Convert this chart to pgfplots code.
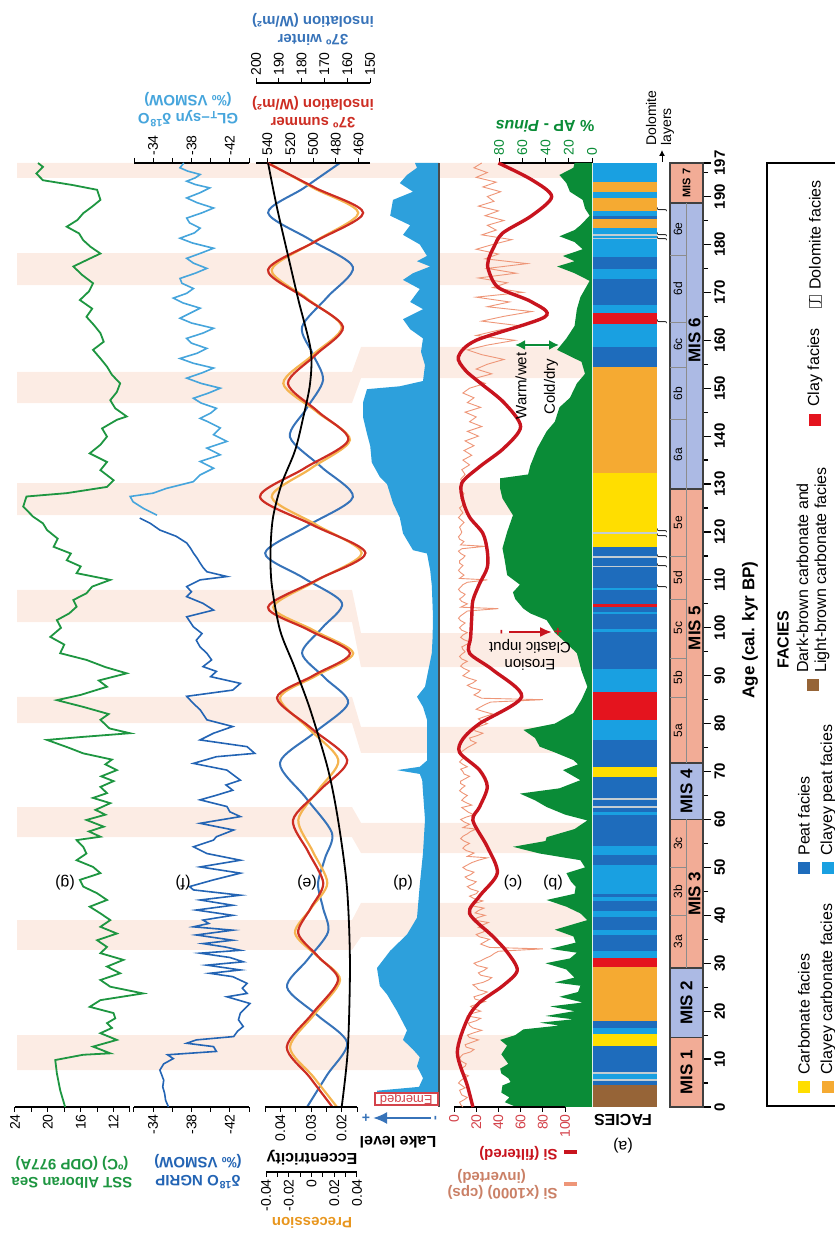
\documentclass[border=0pt]{standalone}
\usepackage{fontspec}
\setmainfont{Liberation Sans}
\newfontfamily\djv{DejaVu Sans}
\usepackage{pgfplots}
\pgfplotsset{compat=1.18}
\usetikzlibrary{arrows.meta}

\definecolor{sstgreen}{RGB}{30,150,65}
\definecolor{apgreen}{RGB}{10,140,55}
\definecolor{ngripblue}{RGB}{35,100,180}
\definecolor{glblue}{RGB}{70,165,220}
\definecolor{sumred}{RGB}{205,45,35}
\definecolor{precorange}{RGB}{245,180,80}
\definecolor{precdark}{RGB}{232,150,30}
\definecolor{winblue}{RGB}{55,115,185}
\definecolor{lakeblue}{RGB}{45,160,220}
\definecolor{sisalmon}{RGB}{238,150,120}
\definecolor{sired}{RGB}{200,20,30}
\definecolor{bandpink}{RGB}{252,236,228}
\definecolor{misodd}{RGB}{242,172,150}
\definecolor{miseven}{RGB}{172,186,228}
\definecolor{fyellow}{RGB}{255,222,0}
\definecolor{forange}{RGB}{245,170,50}
\definecolor{fdblue}{RGB}{30,108,188}
\definecolor{flblue}{RGB}{25,160,225}
\definecolor{fred}{RGB}{228,20,30}
\definecolor{fbrown}{RGB}{150,100,55}
\definecolor{fgray}{RGB}{195,205,210}

\pgfplotsset{
  panel/.style={scale only axis, height=472pt, ymin=0, ymax=197, anchor=south west,
    ytick=\empty, clip=false},
  curves/.style={panel, hide axis},
  short/.style={scale only axis, height=1pt, ymin=0, ymax=1, ytick=\empty, clip=false},
  ruler/.style={axis y line=none, tick align=outside, major tick length=2.5pt,
    minor tick length=1.5pt, scaled x ticks=false,
    tick label style={font=\fontsize{7}{7}\selectfont},
    tick style={line width=0.5pt, black}, axis line style={line width=0.6pt, black}},
  botruler/.style={ruler, axis x line*=bottom,
    xticklabel style={rotate=90, anchor=east, inner sep=1pt}},
  topruler/.style={ruler, axis x line*=top,
    xticklabel style={rotate=90, anchor=west, inner sep=1pt}},
}

% shaded intervals: left part (panels g-e) and right part (panels d-b)
\newcommand{\band}[4]{\addplot[fill=bandpink, draw=none] coordinates
  {(17,#1) (352,#1) (361,#3) (592,#3) (592,#4) (361,#4) (352,#2) (17,#2)};}
% facies layer between two ages
\newcommand{\fac}[3]{\addplot[fill=#3, draw=none] coordinates
  {(0,#1) (1,#1) (1,#2) (0,#2)};}
% marine isotope stage box
\newcommand{\mis}[3]{\addplot[fill=#3, draw=black!75, line width=0.8pt] coordinates
  {(0,#1) (1,#1) (1,#2) (0,#2)} -- cycle;}
\newcommand{\dolo}[1]{\node[rotate=90, inner sep=0pt] at (axis cs:1.08,#1)
  {\djv\fontsize{5}{5}\selectfont ʃ};}

\begin{document}
\begin{tikzpicture}
\path[use as bounding box] (0,0) rectangle (417pt,620pt);

% ---------- shaded intervals ----------
\begin{axis}[curves, at={(0pt,66.5pt)}, width=296.5pt, xmin=0, xmax=593]
\band{193.9}{197}{193.9}{197}
\band{171.5}{178.2}{171.5}{178.2}
\band{146.9}{153.4}{152.1}{158.6}
\band{123.5}{130.2}{123.5}{130.2}
\band{101.2}{107.9}{91.8}{98.9}
\band{80.1}{85.6}{73.9}{79.3}
\band{56.3}{62.6}{53.0}{59.3}
\band{32.8}{39.0}{35.5}{42.6}
\band{7.7}{15.0}{7.7}{15.0}
\end{axis}

% ---------- (g) SST Alboran Sea ----------
\begin{axis}[panel, at={(7.5pt,66.5pt)}, width=57.5pt, xmin=10, xmax=24, x dir=reverse,
  botruler, xtick={10,12,14,16,18,20,22,24}, xticklabels={,12,,16,,20,,24}]
\addplot[sstgreen, line width=0.9pt] table[row sep=\\, x index=1, y index=0] {
0 17.9\\ 3.5 18.5\\ 7.0 18.9\\ 9.8 19.1\\ 10.9 15.7\\ 11.2 12.4\\ 12.6 14.5\\ 14.0 11.6\\
15.4 13.6\\ 16.5 12.2\\ 17.5 12.8\\ 18.5 11.8\\ 19.6 12.0\\ 20.9 14.9\\ 22.3 13.6\\ 23.7 8.4\\
25.1 12.4\\ 26.5 13.6\\ 27.9 11.2\\ 29.3 12.8\\ 30.7 10.8\\ 32.1 13.6\\ 33.4 12.8\\ 34.8 14.0\\
36.2 11.6\\ 37.6 13.6\\ 39.0 12.4\\ 40.4 13.6\\ 41.8 14.9\\ 43.2 12.8\\ 44.6 14.0\\ 46.0 15.7\\
47.4 16.1\\ 48.8 13.6\\ 50.1 14.5\\ 51.5 16.5\\ 52.9 15.3\\ 54.3 15.7\\ 55.7 16.5\\ 56.4 13.6\\
57.5 15.0\\ 58.5 13.2\\ 59.9 15.3\\ 61.0 13.0\\ 62.0 14.2\\ 63.4 12.4\\ 64.5 14.5\\ 65.5 12.8\\
66.8 13.6\\ 68.0 12.0\\ 69.0 13.5\\ 70.3 11.6\\ 71.5 13.0\\ 72.5 12.2\\ 73.8 15.7\\ 75.0 17.5\\
76.6 20.1\\ 77.2 16.0\\ 78.0 10.0\\ 79.0 12.5\\ 80.8 13.6\\ 82.0 12.6\\ 83.5 15.7\\ 84.9 18.9\\
86.0 16.0\\ 87.7 12.8\\ 89.0 13.8\\ 90.5 10.4\\ 91.8 13.0\\ 93.3 15.3\\ 94.7 18.5\\ 96.5 18.0\\
98.1 19.7\\ 100.0 18.4\\ 101.6 18.9\\ 103.0 17.4\\ 104.4 16.5\\ 105.8 16.9\\ 107.2 15.3\\ 108.6 14.6\\
110.0 12.4\\ 111.4 16.5\\ 112.8 16.0\\ 114.1 17.7\\ 115.5 17.2\\ 116.9 19.3\\ 118.6 18.8\\ 120.4 20.1\\
121.8 20.6\\ 123.2 21.8\\ 125.3 23.0\\ 127.4 22.6\\ 128.1 17.7\\ 129.4 12.8\\ 130.8 12.0\\ 132.9 13.6\\
134.6 12.8\\ 136.4 14.9\\ 138.2 13.6\\ 139.9 12.8\\ 141.6 13.4\\ 143.4 11.6\\ 144.1 10.4\\ 145.8 11.8\\
147.5 12.4\\ 149.2 11.6\\ 151.0 11.2\\ 152.8 12.2\\ 154.5 12.8\\ 156.2 13.6\\ 158.0 14.5\\ 159.7 13.2\\
161.5 13.6\\ 163.2 14.4\\ 164.9 15.3\\ 166.6 14.6\\ 168.4 16.1\\ 170.2 15.0\\ 171.9 14.5\\ 173.6 15.8\\
175.4 16.9\\ 176.8 15.2\\ 178.1 13.6\\ 179.5 14.8\\ 180.9 15.7\\ 182.3 16.2\\ 183.7 17.7\\ 185.1 16.4\\
186.5 15.7\\ 187.9 14.6\\ 189.3 13.6\\ 191.4 14.0\\ 192.4 17.0\\ 193.4 20.6\\ 194.8 21.4\\ 196.2 20.6\\
197.0 21.2\\
};
\end{axis}

% ---------- (f) NGRIP and GL_T-syn ----------
\begin{axis}[panel, at={(67pt,66.5pt)}, width=57.5pt, xmin=-44, xmax=-32, x dir=reverse,
  botruler, xtick={-44,-42,-40,-38,-36,-34,-32}, xticklabels={,-42,,-38,,-34,}]
\addplot[ngripblue, line width=0.8pt] table[row sep=\\, x index=1, y index=0] {
0 -35.6\\ 1.4 -35.3\\ 2.8 -35.2\\ 4.2 -35.0\\ 5.6 -35.1\\ 7.7 -34.7\\ 9.0 -35.1\\ 10.1 -36.1\\
10.9 -35.5\\ 11.6 -40.6\\ 12.6 -40.3\\ 13.3 -37.5\\ 14.0 -38.5\\ 14.7 -42.4\\ 15.8 -42.8\\ 16.8 -43.4\\
18.2 -42.9\\ 19.6 -43.1\\ 20.6 -43.6\\ 21.6 -44.1\\ 23.0 -41.7\\ 23.7 -43.8\\ 24.8 -43.3\\ 25.8 -43.8\\
27.2 -42.3\\ 27.9 -39.9\\ 28.6 -43.1\\ 29.6 -39.6\\ 30.3 -43.4\\ 31.2 -42.0\\ 32.1 -38.9\\ 32.7 -43.1\\
33.4 -41.5\\ 34.1 -39.2\\ 34.8 -42.3\\ 35.9 -38.5\\ 36.9 -42.3\\ 37.6 -38.2\\ 38.3 -39.8\\ 39.0 -39.2\\
40.0 -42.3\\ 41.1 -38.5\\ 42.1 -42.3\\ 43.2 -38.9\\ 44.2 -43.1\\ 45.3 -38.2\\ 46.0 -37.8\\ 47.4 -40.3\\
48.8 -43.1\\ 50.1 -38.9\\ 51.5 -43.1\\ 52.9 -39.6\\ 54.3 -38.2\\ 55.7 -40.3\\ 56.4 -40.6\\ 57.8 -42.4\\
59.2 -38.9\\ 60.6 -43.1\\ 61.6 -42.0\\ 62.7 -41.7\\ 64.1 -38.9\\ 65.0 -40.5\\ 66.1 -42.3\\ 67.2 -41.6\\
68.2 -43.1\\ 70.3 -41.7\\ 71.7 -38.2\\ 73.1 -40.6\\ 73.8 -44.6\\ 75.2 -43.8\\ 76.6 -38.9\\ 78.0 -40.3\\
79.4 -42.3\\ 80.8 -39.6\\ 82.9 -38.9\\ 84.2 -38.2\\ 85.7 -37.5\\ 87.0 -42.3\\ 88.4 -43.1\\ 89.8 -40.0\\
90.9 -40.6\\ 91.9 -39.2\\ 93.3 -40.1\\ 94.7 -39.6\\ 96.0 -38.9\\ 97.4 -38.5\\ 98.8 -39.1\\ 100.2 -38.2\\
102.3 -37.5\\ 103.7 -40.3\\ 105.1 -39.2\\ 106.5 -37.5\\ 107.5 -38.0\\ 108.6 -37.5\\ 110.0 -38.9\\ 110.7 -41.7\\
111.7 -39.6\\ 112.6 -39.2\\ 113.5 -38.9\\ 114.5 -38.6\\ 115.6 -38.2\\ 116.6 -37.9\\ 117.7 -37.5\\ 119.1 -36.4\\
120.4 -34.7\\ 121.8 -33.7\\ 122.9 -32.6\\
};
\end{axis}
\begin{axis}[panel, at={(67pt,66.5pt)}, width=57.5pt, xmin=-44, xmax=-32, x dir=reverse,
  topruler, xtick={-44,-42,-40,-38,-36,-34,-32}, xticklabels={,-42,,-38,,-34,}]
\addplot[glblue, line width=0.8pt] table[row sep=\\, x index=1, y index=0] {
123.5 -34.4\\ 124.9 -33.0\\ 126.3 -31.9\\ 127.4 -31.6\\ 128.1 -34.0\\ 129.1 -35.4\\ 130.5 -38.2\\ 131.9 -38.9\\
133.3 -40.3\\ 134.7 -38.9\\ 136.1 -41.0\\ 137.5 -39.6\\ 138.9 -41.7\\ 140.3 -40.3\\ 141.7 -41.0\\ 143.1 -39.6\\
143.7 -38.9\\ 144.8 -40.0\\ 145.8 -40.6\\ 146.9 -39.0\\ 147.9 -38.2\\ 149.0 -39.8\\ 150.0 -41.0\\ 151.0 -39.0\\
152.1 -37.5\\ 153.2 -39.1\\ 154.2 -40.3\\ 155.2 -38.2\\ 156.2 -36.8\\ 157.3 -38.6\\ 158.3 -39.6\\ 159.4 -38.0\\
160.4 -37.5\\ 161.5 -39.2\\ 162.5 -40.3\\ 163.6 -38.0\\ 164.6 -36.8\\ 165.7 -37.9\\ 166.7 -38.9\\ 167.8 -37.1\\
168.8 -36.1\\ 169.8 -37.5\\ 170.8 -38.2\\ 171.9 -37.0\\ 172.9 -36.8\\ 174.0 -38.4\\ 175.0 -39.6\\ 176.1 -38.2\\
177.1 -37.5\\ 178.2 -39.0\\ 179.2 -40.3\\ 180.3 -38.1\\ 181.3 -36.8\\ 182.4 -38.3\\ 183.4 -38.9\\ 184.5 -37.8\\
185.5 -37.5\\ 186.6 -39.1\\ 187.6 -40.3\\ 188.7 -38.6\\ 189.7 -37.5\\ 190.8 -38.9\\ 191.8 -39.9\\ 192.5 -38.4\\
193.2 -37.5\\ 193.9 -38.4\\ 194.6 -38.9\\ 195.3 -37.6\\ 196.0 -36.8\\ 197.0 -37.2\\
};
\end{axis}

% ---------- (e) orbital parameters ----------
% 37N winter insolation
\begin{axis}[curves, at={(128pt,66.5pt)}, width=57pt, xmin=150, xmax=200, x dir=reverse]
\addplot[winblue, line width=1pt, smooth] table[row sep=\\, x index=1, y index=0] {
0 177.6\\ 6.7 168.8\\ 13.4 160\\ 19.2 173.2\\ 25 186.4\\ 30.75 177.4\\ 36.5 168.4\\ 41.55 170.6\\
46.6 172.8\\ 51.9 169.75\\ 57.2 166.7\\ 64.5 178.1\\ 71.8 189.5\\ 78.05 174.55\\ 84.3 159.6\\ 89.5 169.7\\
94.7 179.8\\ 99.95 171.05\\ 105.2 162.3\\ 110.4 179.15\\ 115.6 196\\ 121.45 176.75\\ 127.3 157.5\\
133.55 171.3\\ 139.8 185.1\\ 145.75 177.85\\ 151.7 170.6\\ 157.25 175.2\\ 162.8 179.8\\ 169.05 168.65\\
175.3 157.5\\ 180.95 176.1\\ 186.6 194.7\\ 191.8 178.95\\ 197 163.2\\
};
\end{axis}
% precession
\begin{axis}[curves, at={(133pt,66.5pt)}, width=45.5pt, xmin=-0.04, xmax=0.04]
\addplot[precorange, line width=1.1pt, smooth] table[row sep=\\, x index=1, y index=0] {
0 0.0224\\ 6.25 0.0018\\ 12.5 -0.0189\\ 19.5 0.0031\\ 26.5 0.0251\\ 31.4 0.0053\\ 36.3 -0.0145\\
41.5 -0.0003\\ 46.7 0.0139\\ 53.3 0.0012\\ 59.9 -0.0116\\ 66.15 0.0060\\ 72.4 0.0236\\ 78.9 -0.0021\\
85.4 -0.0277\\ 90.05 0.0045\\ 94.7 0.0367\\ 99.5 0.0016\\ 104.3 -0.0336\\ 109.95 0.0053\\ 115.6 0.0441\\
121.45 0.0046\\ 127.3 -0.0350\\ 133.25 -0.0006\\ 139.2 0.0338\\ 145.1 0.0045\\ 151 -0.0248\\ 156.9 0.0009\\
162.8 0.0266\\ 168.75 -0.0042\\ 174.7 -0.0350\\ 180.65 0.0031\\ 186.6 0.0411\\ 191.8 0.0016\\ 197 -0.0380\\
};
\end{axis}
% 37N summer insolation
\begin{axis}[panel, at={(128pt,66.5pt)}, width=57pt, xmin=450, xmax=550, x dir=reverse,
  topruler, xtick={460,480,500,520,540}, xticklabels={460,480,500,520,540}]
\addplot[sumred, line width=1.1pt, smooth] table[row sep=\\, x index=1, y index=0] {
0 483\\ 6.25 503\\ 12.5 523\\ 19.5 500.5\\ 26.5 478\\ 31.4 495.5\\ 36.3 513\\ 41.5 502\\ 46.7 491\\
53.3 504.3\\ 59.9 517.5\\ 66.15 493.8\\ 72.4 470\\ 78.9 500.8\\ 85.4 531.6\\ 90.05 499.6\\ 94.7 467.5\\
99.5 503.5\\ 104.3 539.5\\ 109.95 496.8\\ 115.6 454\\ 121.45 500.3\\ 127.3 546.5\\ 133.25 507.8\\
139.2 469\\ 145.1 495.5\\ 151 522\\ 156.9 497.9\\ 162.8 473.7\\ 168.75 506.6\\ 174.7 539.5\\
180.65 497.8\\ 186.6 456\\ 191.8 498\\ 197 540\\
};
\end{axis}
% eccentricity
\begin{axis}[panel, at={(132.5pt,66.5pt)}, width=46pt, xmin=0.015, xmax=0.045, x dir=reverse,
  botruler, xtick={0.015,0.02,0.025,0.03,0.035,0.04,0.045}, xticklabels={,0.02,,0.03,,0.04,}]
\addplot[black, line width=0.9pt, smooth] table[row sep=\\, x index=1, y index=0] {
0 0.0200\\ 12 0.0180\\ 30 0.0173\\ 46 0.0183\\ 60 0.0212\\ 70.6 0.0245\\ 83 0.0303\\ 92 0.0355\\
99.5 0.0401\\ 109 0.0428\\ 116 0.0432\\ 123 0.0424\\ 130 0.0396\\ 137 0.0352\\ 144 0.0325\\
151 0.0303\\ 158 0.0301\\ 168.4 0.0341\\ 178.8 0.0379\\ 188 0.0412\\ 197 0.0440\\
};
\end{axis}
% winter insolation scale
\begin{axis}[short, at={(128pt,578.5pt)}, anchor=north west, width=57pt, xmin=150, xmax=200,
  x dir=reverse, topruler, xtick={150,160,170,180,190,200}, xticklabels={150,160,170,180,190,200}]
\end{axis}
% precession scale
\begin{axis}[short, at={(133pt,34pt)}, anchor=south west, width=45.5pt, xmin=-0.04, xmax=0.04,
  botruler, xtick={-0.04,-0.03,-0.02,-0.01,0,0.01,0.02,0.03,0.04},
  xticklabels={-0.04,,-0.02,,0,,0.02,,0.04}]
\end{axis}

% ---------- (d) lake level ----------
\begin{axis}[curves, at={(179.5pt,66.5pt)}, width=40pt, xmin=0, xmax=1, x dir=reverse]
\addplot[fill=lakeblue, draw=none] table[row sep=\\, x index=1, y index=0] {
197 0\\ 197 0.30\\ 196 0.275\\ 194.5 0.40\\ 192.8 0.49\\ 191 0.325\\ 189.3 0.575\\ 186 0.61\\
184 0.36\\ 182 0.45\\ 180 0.24\\ 177.6 0.15\\ 176.5 0.275\\ 175.4 0.11\\ 174 0.325\\ 172.6 0.45\\
170.7 0.24\\ 168 0.36\\ 166.5 0.20\\ 164.4 0.45\\ 162.3 0.36\\ 160.4 0.20\\ 157.6 0.225\\ 154.8 0.175\\
151.5 0.20\\ 150.4 0.49\\ 149.8 0.90\\ 147 0.95\\ 144 0.95\\ 140.5 0.90\\ 138 0.86\\ 134.5 0.84\\
131.5 0.74\\ 130 0.65\\ 126 0.575\\ 123 0.49\\ 119.7 0.45\\ 116.2 0.325\\ 115.5 0.15\\ 112 0.11\\
108.8 0.09\\ 102.3 0.075\\ 98 0.08\\ 94.7 0.09\\ 87.7 0.175\\ 85.6 0.275\\ 83.5 0.20\\ 80.8 0.15\\
72.3 0.15\\ 71 0.24\\ 70.3 0.525\\ 69.5 0.24\\ 68.2 0.21\\ 65.7 0.20\\ 60 0.175\\ 53 0.20\\
46.4 0.24\\ 39.5 0.275\\ 36 0.40\\ 32.6 0.61\\ 29 0.775\\ 25.3 0.74\\ 23.5 0.65\\ 20 0.525\\
16 0.40\\ 14 0.45\\ 12 0.325\\ 10.4 0.24\\ 8.5 0.275\\ 6 0.20\\ 4.2 0.25\\ 3.4 0.775\\ 3.0 0.775\\
3.0 0\\
};
\draw[black!70, line width=0.6pt] (axis cs:0,0) -- (axis cs:0,197);
\draw[sired!80, line width=0.6pt] (axis cs:0.0125,0.4) rectangle (axis cs:0.8,2.9);
\node[rotate=180, text=sired!80, font=\fontsize{6.5}{6.5}\selectfont, inner sep=0pt]
  at (axis cs:0.41,1.65) {Emerged};
\end{axis}

% ---------- (b) % AP - Pinus ----------
\begin{axis}[panel, at={(249.5pt,66.5pt)}, width=46.5pt, xmin=0, xmax=80, x dir=reverse,
  topruler, xtick={0,20,40,60,80}, xticklabels={0,20,40,60,80},
  xticklabel style={text=apgreen}]
\addplot[fill=apgreen, draw=none] table[row sep=\\, x index=1, y index=0] {
0 0\\ 0 65\\ 1 75\\ 2 71\\ 3 78\\ 4.5 77\\ 5.2 70\\ 6 72\\ 7 78\\ 8 79\\ 9 72\\ 10 75\\ 11 78\\
12.8 73\\ 14 79\\ 15 66\\ 16.2 59\\ 17 28\\ 17.6 45\\ 18.3 16\\ 19 40\\ 20 15\\ 21 36\\ 21.8 8\\
23 28\\ 24 12\\ 25.3 10\\ 26 32\\ 27 15\\ 28.7 22\\ 30 40\\ 31 19\\ 32.2 13\\ 33 36\\ 34.3 14\\
35.6 16\\ 37 32\\ 39 4\\ 40.4 10\\ 41.8 22\\ 43.2 39\\ 44.5 15\\ 46 14\\ 47 18\\ 48.8 22\\ 50 6\\
51.5 10\\ 52.9 45\\ 54.3 68\\ 55.5 40\\ 56.3 39\\ 58 15\\ 59.8 4\\ 61 23\\ 62.6 39\\ 64 49\\
65.4 62\\ 66.5 28\\ 68.2 10\\ 70.3 25\\ 71.5 12\\ 72.4 16\\ 74 32\\ 75.2 45\\ 77 49\\ 78.7 59\\
80 32\\ 82.2 16\\ 85 9\\ 87.7 4\\ 91 9\\ 94.7 13\\ 97 23\\ 99 32\\ 101.6 39\\ 103 53\\ 104 59\\
106 66\\ 107.4 68\\ 109 62\\ 111 73\\ 114 75\\ 116.6 77\\ 120 73\\ 123.5 68\\ 127 77\\ 129 79\\
131.2 79\\ 132 55\\ 133.9 53\\ 137.5 47\\ 141 39\\ 143 32\\ 146 28\\ 148 19\\ 151 13\\ 153 6\\
155.5 9\\ 158 30\\ 160.4 22\\ 163 15\\ 166.5 13\\ 169 10\\ 172.4 2\\ 174 15\\ 175.4 30\\ 176.5 15\\
177.6 25\\ 179 8\\ 180.5 15\\ 181.7 28\\ 183 15\\ 184 10\\ 186 2\\ 187.5 6\\ 189.3 8\\ 191 19\\
192.8 22\\ 194.5 28\\ 196 16\\ 197 15\\ 197 0\\
};
\end{axis}

% ---------- (c) Si ----------
\begin{axis}[panel, at={(227pt,66.5pt)}, width=55.5pt, xmin=0, xmax=100,
  botruler, xtick={0,20,40,60,80,100}, xticklabels={0,20,40,60,80,100},
  xticklabel style={text=sired!80}]
\addplot[sisalmon, line width=0.45pt] table[row sep=\\, x index=1, y index=0] {
0 8\\ 0.5 6\\ 1 5\\ 1.5 9\\ 2 12\\ 2.5 7\\ 3 6\\ 3.5 5\\ 4 10\\ 4.5 7\\ 5 4\\ 5.5 6\\ 6 9\\
6.5 13\\ 7 8\\ 7.5 6\\ 8 6\\ 8.5 10\\ 9 11\\ 9.5 7\\ 10 5\\ 10.5 6\\ 11 8\\ 11.5 15\\ 12 18\\
12.5 11\\ 13 10\\ 13.5 16\\ 14 22\\ 14.5 14\\ 15 12\\ 15.5 18\\ 16 25\\ 16.5 17\\ 17 14\\ 17.5 13\\
18 20\\ 18.5 24\\ 19 12\\ 19.5 16\\ 20 24\\ 20.5 18\\ 21 15\\ 21.5 21\\ 22 28\\ 22.5 19\\ 23 18\\
23.5 25\\ 24 30\\ 24.5 22\\ 25 20\\ 25.5 17\\ 26 26\\ 26.5 31\\ 27 34\\ 27.5 24\\ 28 22\\ 28.5 27\\
29 30\\ 29.5 21\\ 30 18\\ 30.5 24\\ 31 28\\ 31.5 33\\ 32 36\\ 32.5 40\\ 33 80\\ 33.3 32\\ 34 24\\
34.5 28\\ 35 32\\ 35.5 23\\ 36 20\\ 36.5 26\\ 37 30\\ 37.5 22\\ 38 26\\ 38.5 31\\ 39 18\\ 39.5 21\\
40 28\\ 40.5 19\\ 41 22\\ 41.5 27\\ 42 16\\ 42.5 19\\ 43 26\\ 43.5 18\\ 44 14\\ 44.5 20\\ 45 22\\
45.5 15\\ 46 12\\ 46.5 17\\ 47 20\\ 47.5 13\\ 48 10\\ 48.5 15\\ 49 18\\ 49.5 11\\ 50 8\\ 50.5 12\\
51 16\\ 51.5 22\\ 52 30\\ 52.3 12\\ 53 18\\ 53.5 11\\ 54 8\\ 54.5 10\\ 55 14\\ 55.5 9\\ 56 6\\
56.5 8\\ 57 12\\ 57.5 15\\ 58 20\\ 58.3 8\\ 59 14\\ 59.5 9\\ 60 6\\ 60.5 11\\ 61 18\\ 61.5 13\\
62 10\\ 62.5 7\\ 63 16\\ 63.5 11\\ 64 7\\ 64.5 9\\ 65 12\\ 65.5 8\\ 66 5\\ 66.5 7\\ 67 10\\
67.5 6\\ 68 6\\ 68.5 10\\ 69 14\\ 69.5 9\\ 70 8\\ 70.5 6\\ 71 12\\ 71.5 8\\ 72 5\\ 72.5 7\\
73 10\\ 73.5 6\\ 74 6\\ 74.5 9\\ 75 12\\ 75.5 16\\ 76 20\\ 76.5 15\\ 77 14\\ 77.5 21\\ 78 26\\
78.5 19\\ 79 18\\ 79.5 24\\ 80 30\\ 80.5 25\\ 81 22\\ 81.5 28\\ 82 35\\ 82.5 27\\ 83 20\\ 83.5 24\\
84 28\\ 84.5 33\\ 85 80\\ 85.3 25\\ 86 18\\ 86.5 22\\ 87 24\\ 87.5 16\\ 88 12\\ 88.5 17\\ 89 20\\
89.5 13\\ 90 8\\ 90.5 11\\ 91 14\\ 91.5 9\\ 92 6\\ 92.5 8\\ 93 12\\ 93.5 7\\ 94 5\\ 94.5 7\\
95 10\\ 95.5 8\\ 96 7\\ 96.5 11\\ 97 15\\ 97.5 9\\ 98 6\\ 98.5 8\\ 99 12\\ 99.5 7\\ 100 5\\
100.5 7\\ 101 10\\ 101.5 6\\ 102 4\\ 102.5 6\\ 103 9\\ 103.5 12\\ 104 40\\ 104.3 6\\ 105 12\\
105.5 7\\ 106 5\\ 106.5 8\\ 107 10\\ 107.5 6\\ 108 4\\ 108.5 6\\ 109 8\\ 109.5 12\\ 110 30\\
110.3 5\\ 111 9\\ 111.5 6\\ 112 4\\ 112.5 6\\ 113 8\\ 113.5 5\\ 114 5\\ 114.5 8\\ 115 10\\
115.5 6\\ 116 4\\ 116.5 7\\ 117 28\\ 117.3 6\\ 118 9\\ 118.5 5\\ 119 4\\ 119.5 6\\ 120 7\\
121 5\\ 122 9\\ 123 4\\ 124 8\\ 125 5\\ 126 10\\ 127 6\\ 128 9\\ 129 5\\ 130 8\\ 131 6\\ 132 10\\
133 7\\ 134 14\\ 135 8\\ 136 16\\ 137 9\\ 138 18\\ 139 10\\ 140 22\\ 141 12\\ 142 25\\ 143 14\\
144 20\\ 145 10\\ 146 24\\ 147 12\\ 148 18\\ 149 8\\ 150 14\\ 151 28\\ 152 18\\ 153 34\\ 154 20\\
155 30\\ 156 45\\ 157 25\\ 158 12\\ 159 30\\ 160 55\\ 161 20\\ 162 38\\ 163 60\\ 164 25\\ 165 45\\
166 70\\ 167 30\\ 168 50\\ 169 20\\ 170 62\\ 171 35\\ 172 48\\ 173 22\\ 174 56\\ 175 30\\ 176 66\\
177 28\\ 178 40\\ 179 20\\ 180 35\\ 181 52\\ 182 25\\ 183 38\\ 184 30\\ 185 45\\ 186 28\\ 187 40\\
188 22\\ 189 36\\ 190 30\\ 191 42\\ 192 26\\ 193 38\\ 194 20\\ 195 30\\ 196 18\\ 197 25\\
};
\addplot[sired, line width=1.7pt, smooth] table[row sep=\\, x index=1, y index=0] {
0 17\\ 4.5 12\\ 11.4 3\\ 18.3 12\\ 21.8 23\\ 25.3 44\\ 28.5 57\\ 32.3 48\\ 35.6 35\\ 40.4 14\\
44 23\\ 48.8 39\\ 54.3 30\\ 59.8 17\\ 62.6 23\\ 66.8 30\\ 70.3 23\\ 74 5\\ 76.8 8\\ 80 23\\
85.6 61\\ 91.2 35\\ 94.7 14\\ 98 15\\ 102.3 16\\ 105.7 17\\ 109.2 23\\ 112.6 30\\ 116 30\\
119.7 26\\ 123.1 14\\ 126.6 8\\ 130.2 7\\ 133.6 23\\ 137.5 45\\ 142 60\\ 147 45\\ 151.2 23\\
153.8 10\\ 156.6 4\\ 160 20\\ 164.9 82\\ 168 70\\ 171 40\\ 174.7 31\\ 176.8 31\\ 179.5 36\\
182.4 44\\ 186 70\\ 190 88\\ 193.5 70\\ 197 40\\
};
\end{axis}

% ---------- (a) facies ----------
\begin{axis}[curves, at={(296.5pt,66.5pt)}, width=32pt, xmin=0, xmax=1]
\fac{0}{4.6}{fbrown}
\fac{4.6}{5.5}{fdblue}
\fac{5.5}{5.9}{fgray}
\fac{5.9}{6.8}{flblue}
\fac{6.8}{7.2}{fgray}
\fac{7.2}{12.7}{fdblue}
\fac{12.7}{15.3}{fyellow}
\fac{15.3}{16.5}{flblue}
\fac{16.5}{18}{fdblue}
\fac{18}{29.2}{forange}
\fac{29.2}{31}{fred}
\fac{31}{32.5}{flblue}
\fac{32.5}{35.8}{fdblue}
\fac{35.8}{37}{flblue}
\fac{37}{39.6}{fdblue}
\fac{39.6}{41}{flblue}
\fac{41}{43}{fdblue}
\fac{43}{43.8}{flblue}
\fac{43.8}{44.4}{fdblue}
\fac{44.4}{50.5}{flblue}
\fac{50.5}{52.5}{fdblue}
\fac{52.5}{54.5}{flblue}
\fac{54.5}{61}{fdblue}
\fac{61}{61.6}{flblue}
\fac{61.6}{62.4}{fdblue}
\fac{62.4}{62.8}{fgray}
\fac{62.8}{64}{fdblue}
\fac{64}{64.4}{fgray}
\fac{64.4}{68.8}{fdblue}
\fac{68.8}{71}{fyellow}
\fac{71}{76.5}{fdblue}
\fac{76.5}{80.7}{flblue}
\fac{80.7}{86.6}{fred}
\fac{86.6}{91.5}{flblue}
\fac{91.5}{99.2}{fdblue}
\fac{99.2}{99.7}{flblue}
\fac{99.7}{102.8}{fdblue}
\fac{102.8}{103.3}{flblue}
\fac{103.3}{104.3}{fdblue}
\fac{104.3}{104.9}{fred}
\fac{104.9}{107.8}{fdblue}
\fac{107.8}{108.4}{flblue}
\fac{108.4}{112.7}{fdblue}
\fac{112.7}{113}{fgray}
\fac{113}{114.6}{fdblue}
\fac{114.6}{114.9}{fgray}
\fac{114.9}{116.9}{fdblue}
\fac{116.9}{119.5}{fyellow}
\fac{119.5}{120}{fgray}
\fac{120}{132.3}{fyellow}
\fac{132.3}{154.4}{forange}
\fac{154.4}{158.6}{fdblue}
\fac{158.6}{163.4}{flblue}
\fac{163.4}{165.6}{fred}
\fac{165.6}{167.4}{flblue}
\fac{167.4}{172.8}{fdblue}
\fac{172.8}{174.9}{flblue}
\fac{174.9}{177.3}{fdblue}
\fac{177.3}{181.1}{flblue}
\fac{181.1}{181.4}{fgray}
\fac{181.4}{181.8}{flblue}
\fac{181.8}{182.1}{fgray}
\fac{182.1}{183.5}{flblue}
\fac{183.5}{185.3}{forange}
\fac{185.3}{186}{fdblue}
\fac{186}{186.9}{flblue}
\fac{186.9}{189.7}{forange}
\fac{189.7}{191}{flblue}
\fac{191}{193.1}{forange}
\fac{193.1}{197}{flblue}
\dolo{108.5} \dolo{113} \dolo{114.8} \dolo{119.2} \dolo{120.2}
\dolo{163.8} \dolo{181.2} \dolo{182} \dolo{187.2}
\end{axis}

% ---------- MIS column and age scale ----------
\begin{axis}[panel, at={(335pt,66.5pt)}, width=16.5pt, xmin=0, xmax=1,
  axis x line=none, axis y line*=right, ytick={0,10,...,190,197}, minor ytick={5,15,...,195},
  tick align=outside, major tick length=4pt, minor tick length=2.5pt,
  y axis line style={line width=0.7pt}, tick style={line width=0.6pt, black},
  /pgf/number format/assume math mode=true,
  yticklabel style={rotate=90, anchor=north, inner sep=1.5pt,
    font=\bfseries\fontsize{7.5}{7.5}\selectfont}]
\mis{0}{14.5}{misodd}
\mis{14.5}{29}{miseven}
\mis{29}{60}{misodd}
\mis{60}{71.8}{miseven}
\mis{71.8}{129}{misodd}
\mis{129}{188.6}{miseven}
\mis{188.6}{197}{misodd}
\draw[black!45, line width=0.4pt] (axis cs:0.485,29) -- (axis cs:0.485,60)
  (axis cs:0.485,71.8) -- (axis cs:0.485,188.6);
\pgfplotsinvokeforeach{40,50,85.5,93.7,106,115,143.4,154.4,163.8,177.8}{
  \draw[black!45, line width=0.4pt] (axis cs:0,#1) -- (axis cs:0.485,#1);}
\node[rotate=90, inner sep=0pt, font=\bfseries\fontsize{8.5}{8.5}\selectfont] at (axis cs:0.5,7.25) {MIS 1};
\node[rotate=90, inner sep=0pt, font=\bfseries\fontsize{8.5}{8.5}\selectfont] at (axis cs:0.5,21.75) {MIS 2};
\node[rotate=90, inner sep=0pt, font=\bfseries\fontsize{8.5}{8.5}\selectfont] at (axis cs:0.74,44.5) {MIS 3};
\node[rotate=90, inner sep=0pt, font=\bfseries\fontsize{8.5}{8.5}\selectfont] at (axis cs:0.5,65.9) {MIS 4};
\node[rotate=90, inner sep=0pt, font=\bfseries\fontsize{8.5}{8.5}\selectfont] at (axis cs:0.74,100) {MIS 5};
\node[rotate=90, inner sep=0pt, font=\bfseries\fontsize{8.5}{8.5}\selectfont] at (axis cs:0.74,160) {MIS 6};
\node[rotate=90, inner sep=0pt, font=\bfseries\fontsize{5.5}{5.5}\selectfont] at (axis cs:0.5,192.8) {MIS 7};
\node[rotate=90, inner sep=0pt, font=\fontsize{6}{6}\selectfont] at (axis cs:0.24,34.5) {3a};
\node[rotate=90, inner sep=0pt, font=\fontsize{6}{6}\selectfont] at (axis cs:0.24,45) {3b};
\node[rotate=90, inner sep=0pt, font=\fontsize{6}{6}\selectfont] at (axis cs:0.24,55) {3c};
\node[rotate=90, inner sep=0pt, font=\fontsize{6}{6}\selectfont] at (axis cs:0.24,78.6) {5a};
\node[rotate=90, inner sep=0pt, font=\fontsize{6}{6}\selectfont] at (axis cs:0.24,89.6) {5b};
\node[rotate=90, inner sep=0pt, font=\fontsize{6}{6}\selectfont] at (axis cs:0.24,99.9) {5c};
\node[rotate=90, inner sep=0pt, font=\fontsize{6}{6}\selectfont] at (axis cs:0.24,110.5) {5d};
\node[rotate=90, inner sep=0pt, font=\fontsize{6}{6}\selectfont] at (axis cs:0.24,122) {5e};
\node[rotate=90, inner sep=0pt, font=\fontsize{6}{6}\selectfont] at (axis cs:0.24,136.2) {6a};
\node[rotate=90, inner sep=0pt, font=\fontsize{6}{6}\selectfont] at (axis cs:0.24,148.9) {6b};
\node[rotate=90, inner sep=0pt, font=\fontsize{6}{6}\selectfont] at (axis cs:0.24,159.1) {6c};
\node[rotate=90, inner sep=0pt, font=\fontsize{6}{6}\selectfont] at (axis cs:0.24,170.8) {6d};
\node[rotate=90, inner sep=0pt, font=\fontsize{6}{6}\selectfont] at (axis cs:0.24,183.2) {6e};
\end{axis}

% ---------- titles, arrows and legend ----------
\begin{scope}[x=0.5pt, y=-0.5pt, yshift=620pt]
\tikzset{ttl/.style={rotate=180, align=center, inner sep=0pt,
  font=\bfseries\fontsize{7.5}{9}\selectfont}}
\node[ttl, text=sstgreen] at (72,1172) {SST Alboran Sea\\(ºC) (ODP 977A)};
\node[ttl, text=ngripblue] at (198,1172) {δ\textsuperscript{18}O NGRIP\\(‰ VSMOW)};
\node[ttl, text=glblue] at (188,110) {GL\textsubscript{T}–syn δ\textsuperscript{18}O\\(‰ VSMOW)};
\node[ttl, text=sumred] at (313,112) {37º summer\\insolation (W/m²)};
\node[ttl, text=winblue] at (313,29) {37º winter\\insolation (W/m²)};
\node[ttl, text=apgreen, font=\bfseries\fontsize{8}{9}\selectfont] at (545,126) {\% AP - \textit{Pinus}};
\node[ttl, font=\bfseries\fontsize{8}{9}\selectfont] at (312,1158) {Eccentricity};
\node[ttl, text=precdark, font=\bfseries\fontsize{7.5}{9}\selectfont] at (312,1223) {Precession};
\node[ttl, font=\bfseries\fontsize{8}{9}\selectfont] at (398,1142) {Lake level};
\node[ttl, text=sired, anchor=west] at (558,1153) {Si (filtered)};
\node[ttl, text=sisalmon!85!black, anchor=west] at (558,1192) {Si (x1000) (cps)};
\node[ttl, text=sisalmon!85!black, anchor=east] at (457,1176) {(inverted)};
\draw[sired, line width=2pt] (564,1152) -- (577,1152);
\draw[sisalmon, line width=2pt] (564,1184) -- (577,1184);

% panel letters
\tikzset{plab/.style={rotate=180, inner sep=0pt, font=\fontsize{8}{8}\selectfont}}
\node[plab] at (65,883) {(g)};
\node[plab] at (183,883) {(f)};
\node[plab] at (307,883) {(e)};
\node[plab] at (403,883) {(d)};
\node[plab] at (513,883) {(c)};
\node[plab] at (553,883) {(b)};
\node[plab] at (623,1146) {(a)};
\node[plab, font=\bfseries\fontsize{8}{8}\selectfont] at (623,1120) {FACIES};

% lake level direction
\draw[-{Latex[length=7pt,width=6pt]}, winblue, line width=1.1pt] (431,1118) -- (373,1118);
\node[winblue, font=\bfseries\fontsize{7}{7}\selectfont] at (366,1118) {+};
\node[winblue, rotate=90, font=\bfseries\fontsize{7}{7}\selectfont] at (437,1118) {-};

% clastic input direction
\draw[-{Latex[length=6pt,width=5pt]}, sired, line width=1pt] (509,632) -- (552,632);
\node[sired, font=\bfseries\fontsize{7}{7}\selectfont] at (558,632) {+};
\node[sired, rotate=90, font=\bfseries\fontsize{7}{7}\selectfont] at (503,632) {-};
\node[rotate=180, align=center, inner sep=0pt, font=\fontsize{7.5}{8.5}\selectfont]
  at (530,655) {Erosion\\Clastic input};

% warm/wet vs cold/dry
\draw[{Latex[length=5pt,width=5pt]}-{Latex[length=5pt,width=5pt]}, apgreen, line width=1pt]
  (515,345) -- (559,345);
\node[rotate=90, anchor=west, inner sep=0pt, font=\fontsize{7.5}{7.5}\selectfont] at (521,420) {Warm/wet};
\node[rotate=90, anchor=west, inner sep=0pt, font=\fontsize{7.5}{7.5}\selectfont] at (551,415) {Cold/dry};

% dolomite layers key
\node[rotate=90, anchor=west, align=left, inner sep=0pt, font=\fontsize{7}{7.5}\selectfont]
  at (660,146) {Dolomite\\layers};
\draw[-{Latex[length=3pt,width=3pt]}, line width=0.5pt] (662,162) -- (662,150);

% age axis title
\node[rotate=90, font=\bfseries\fontsize{8.5}{8.5}\selectfont] at (750,630) {Age (cal. kyr BP)};

% facies legend
\draw[line width=0.8pt] (767,163) rectangle (880,1106);
\node[rotate=90, font=\bfseries\fontsize{8}{8}\selectfont] at (783,640) {FACIES};
\tikzset{lg/.style={rotate=90, anchor=west, inner sep=0pt, font=\fontsize{8}{8}\selectfont}}
\fill[fyellow] (798,1081) rectangle (810,1093);
\node[lg] at (804,1075) {Carbonate facies};
\fill[forange] (822,1081) rectangle (834,1093);
\node[lg] at (828,1075) {Clayey carbonate facies};
\fill[fdblue] (798,862) rectangle (810,874);
\node[lg] at (804,856) {Peat facies};
\fill[flblue] (822,862) rectangle (834,874);
\node[lg] at (828,856) {Clayey peat facies};
\fill[fbrown] (807,679) rectangle (819,691);
\node[lg, align=left, font=\fontsize{8}{9}\selectfont] at (813,673) {Dark-brown carbonate and\\Light-brown carbonate facies};
\fill[fred] (809,414) rectangle (821,426);
\node[lg] at (815,407) {Clay facies};
\draw[black!60, line width=0.5pt] (809,296) rectangle (821,308);
\node[rotate=90, inner sep=0pt] at (815,302) {\djv\fontsize{6}{6}\selectfont ʃ};
\node[lg] at (815,290) {Dolomite facies};
\end{scope}
\end{tikzpicture}
\end{document}
